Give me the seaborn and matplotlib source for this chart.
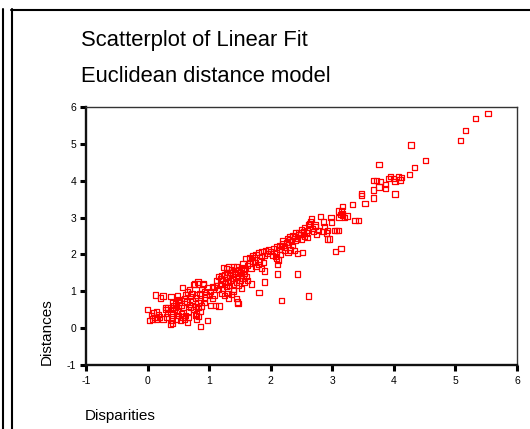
import matplotlib
matplotlib.use("Agg")
import matplotlib.pyplot as plt
from matplotlib.lines import Line2D
import seaborn as sns
import pandas as pd

sns.set_theme(style="ticks")
plt.rcParams['font.family'] = ['Liberation Sans', 'DejaVu Sans']
plt.rcParams['axes.unicode_minus'] = False
plt.rcParams.update({
    'xtick.bottom': True, 'ytick.left': True,
    'xtick.major.size': 4, 'ytick.major.size': 4,
    'xtick.major.width': 2.2, 'ytick.major.width': 2.2,
    'xtick.color': 'black', 'ytick.color': 'black',
    'xtick.direction': 'out', 'ytick.direction': 'out',
})

title_line1 = "Scatterplot of Linear Fit"
title_line2 = "Euclidean distance model"
x_label = "Disparities"
y_label = "Distances"
x_ticks = [-1, 0, 1, 2, 3, 4, 5, 6]
y_ticks = [-1, 0, 1, 2, 3, 4, 5, 6]

pts = [
    # upper outliers
    (5.53, 5.82), (5.33, 5.69), (5.17, 5.36), (5.08, 5.09), (4.28, 4.97), (4.51, 4.55),
    (4.33, 4.35), (4.25, 4.16), (3.76, 4.43),
    (4.12, 4.09), (4.07, 4.10), (4.00, 4.05), (3.95, 4.12), (4.10, 4.02), (4.02, 3.98), (3.92, 4.05),
    (3.67, 4.00), (3.72, 4.00), (3.78, 3.98), (3.86, 3.89), (3.76, 3.83), (3.87, 3.78), (3.67, 3.75),
    (4.02, 3.64), (3.67, 3.53), (3.48, 3.66), (3.48, 3.59), (3.53, 3.38), (3.33, 3.35), (3.17, 3.30),
    (3.10, 3.18), (3.15, 3.18), (3.16, 3.10), (3.17, 3.05), (3.13, 3.08), (3.20, 3.00), (3.11, 3.00),
    (3.24, 3.04), (3.37, 2.93), (3.43, 2.93), (2.98, 3.00), (2.99, 2.88), (2.81, 3.02), (2.66, 2.96),
    (2.63, 2.85), (2.72, 2.80), (2.87, 2.75), (2.86, 2.88), (2.85, 2.63), (2.90, 2.58), (2.92, 2.65),
    (3.07, 2.66), (3.10, 2.66), (3.03, 2.66), (2.92, 2.42), (2.95, 2.42), (3.05, 2.07), (3.14, 2.16),
    (2.11, 1.47), (2.43, 1.47), (1.81, 0.96), (2.17, 0.74), (2.61, 0.87), (1.90, 1.25), (1.69, 1.20),
    # main band 1.6 - 2.8
    (2.64, 2.89), (2.62, 2.82), (2.73, 2.76), (2.78, 2.65), (2.75, 2.55), (2.70, 2.62), (2.68, 2.70),
    (2.53, 2.62), (2.48, 2.53), (2.43, 2.44), (2.34, 2.35), (2.29, 2.28), (2.23, 2.20), (2.14, 2.13),
    (2.58, 2.58), (2.55, 2.50), (2.60, 2.45), (2.50, 2.40), (2.45, 2.55), (2.40, 2.38), (2.38, 2.48),
    (2.35, 2.25), (2.30, 2.40), (2.25, 2.33), (2.20, 2.30), (2.18, 2.22), (2.10, 2.20), (2.05, 2.15),
    (2.00, 2.08), (2.44, 2.02), (2.51, 2.06), (2.38, 2.10), (2.32, 2.12), (2.28, 2.05),
    (2.10, 2.05), (2.08, 1.95), (2.12, 1.85), (2.11, 1.72), (2.10, 1.90), (2.15, 2.00), (2.22, 2.10),
    (2.03, 1.98), (1.95, 2.02), (1.90, 1.98), (1.85, 1.95), (1.80, 2.05), (1.76, 2.00), (1.73, 1.92),
    (1.70, 1.98), (1.65, 1.92), (1.60, 1.90), (1.86, 2.08), (1.92, 2.10), (1.97, 2.12),
    (1.80, 1.72), (1.85, 1.62), (1.76, 1.68), (1.70, 1.80), (1.75, 1.78), (1.82, 1.82), (1.88, 1.78),
    (1.65, 1.75), (1.62, 1.70), (1.68, 1.62), (1.90, 1.55), (1.58, 1.60), (1.55, 1.75), (1.52, 1.65),
    (2.50, 2.68), (2.55, 2.72), (2.60, 2.66), (2.45, 2.60), (2.40, 2.58), (2.35, 2.52), (2.30, 2.48),
    (2.27, 2.43), (2.20, 2.38), (2.15, 2.25),
    # 1.1 - 1.6
    (1.23, 1.65), (1.28, 1.62), (1.32, 1.66), (1.36, 1.60), (1.40, 1.68), (1.45, 1.66), (1.48, 1.60),
    (1.42, 1.55), (1.35, 1.52), (1.30, 1.50), (1.25, 1.45), (1.20, 1.42), (1.15, 1.40), (1.12, 1.30),
    (1.18, 1.35), (1.22, 1.30), (1.28, 1.38), (1.33, 1.42), (1.38, 1.45), (1.43, 1.48), (1.50, 1.52),
    (1.55, 1.55), (1.58, 1.48), (1.52, 1.42), (1.46, 1.38), (1.40, 1.35), (1.35, 1.30), (1.30, 1.25),
    (1.25, 1.20), (1.18, 1.18), (1.12, 1.15), (1.08, 1.10), (1.15, 1.05), (1.22, 1.08), (1.28, 1.12),
    (1.33, 1.15), (1.40, 1.20), (1.45, 1.25), (1.50, 1.30), (1.55, 1.35), (1.60, 1.40), (1.62, 1.30),
    (1.58, 1.25), (1.48, 1.15), (1.40, 1.05), (1.36, 0.92), (1.40, 1.01), (1.44, 0.80), (1.46, 0.71),
    (1.47, 0.67), (1.30, 0.95), (1.25, 0.88), (1.20, 0.95), (1.10, 0.62), (1.16, 0.60), (1.02, 0.62),
    (1.32, 0.82), (1.52, 1.08),
    # 0.5 - 1.1
    (0.57, 1.10), (0.75, 1.18), (0.83, 1.20), (0.91, 1.18), (0.76, 1.20), (0.82, 1.25), (0.90, 1.21),
    (0.68, 1.05), (0.72, 0.95), (0.70, 0.85), (0.65, 0.98), (0.62, 0.90), (0.60, 0.80), (0.64, 0.72),
    (0.68, 0.65), (0.72, 0.75), (0.78, 0.82), (0.80, 0.90), (0.85, 0.95), (0.88, 1.05), (0.92, 1.00),
    (0.95, 0.92), (0.98, 1.10), (1.02, 1.00), (1.05, 1.12), (1.00, 0.88), (0.93, 0.82), (0.86, 0.75),
    (0.82, 0.68), (0.78, 0.58), (0.75, 0.50), (0.70, 0.55), (0.66, 0.45), (0.62, 0.35), (0.60, 0.25),
    (0.65, 0.15), (0.67, 0.28), (0.80, 0.40), (0.83, 0.32), (0.85, 0.45), (0.82, 0.55), (0.79, 0.24),
    (0.78, 0.35), (0.86, 0.05), (0.97, 0.20), (0.88, 0.60), (0.93, 0.70), (1.05, 0.80), (1.08, 0.90),
    (0.55, 0.62), (0.52, 0.70), (0.58, 0.55), (0.50, 0.78),
    (0.48, 0.87), (0.52, 0.76), (0.46, 0.67), (0.45, 0.55), (0.48, 0.45), (0.50, 0.35), (0.47, 0.25),
    (0.55, 0.40), (0.57, 0.30), (0.53, 0.20),
    (0.38, 0.85), (0.40, 0.70), (0.41, 0.55), (0.38, 0.40), (0.40, 0.30), (0.39, 0.20), (0.37, 0.11),
    (0.40, 0.12), (0.43, 0.50), (0.42, 0.62),
    (0.29, 0.57), (0.30, 0.50), (0.32, 0.40), (0.31, 0.30), (0.32, 0.55),
    (0.00, 0.51), (0.03, 0.20), (0.13, 0.90), (0.21, 0.82), (0.25, 0.87), (0.07, 0.35), (0.10, 0.42),
    (0.14, 0.44), (0.12, 0.28), (0.08, 0.25), (0.14, 0.25), (0.20, 0.30), (0.25, 0.25), (0.18, 0.38),
]
disparities = [p[0] for p in pts]
distances = [p[1] for p in pts]

df = pd.DataFrame({"Disparities": disparities, "Distances": distances})

W, H = 530, 429
fig = plt.figure(figsize=(W / 100, H / 100), dpi=100)
ax = fig.add_axes([86 / W, 1 - 365 / H, (517 - 86) / W, (365 - 107) / H])

sns.scatterplot(data=df, x="Disparities", y="Distances", ax=ax, marker="s", s=14,
                color="none", edgecolor="#ff0000", linewidth=0.9, legend=False)
for coll in ax.collections:
    coll.set_facecolor("none")
    coll.set_edgecolor("#ff0000")

ax.set_xlim(-1, 6)
ax.set_ylim(-1, 6)
ax.set_xticks(x_ticks)
ax.set_yticks(y_ticks)
ax.set_xticklabels([str(t) for t in x_ticks])
ax.set_yticklabels([str(t) for t in y_ticks])
ax.set_xlabel("")
ax.set_ylabel("")
ax.tick_params(axis="both", which="major", direction="out", length=4, width=2.2,
               labelsize=7.5, color="black", labelcolor="black", pad=3.0,
               bottom=True, left=True, top=False, right=False)
ax.tick_params(axis="x", pad=4.0)
for t in ax.xaxis.get_major_ticks() + ax.yaxis.get_major_ticks():
    t.tick1line.set_visible(True)
    t.tick1line.set_markeredgecolor("black")
    t.tick1line.set_zorder(5)

for side in ["left", "bottom"]:
    ax.spines[side].set_linewidth(1.7)
    ax.spines[side].set_color("#111111")
for side in ["top", "right"]:
    ax.spines[side].set_linewidth(1.0)
    ax.spines[side].set_color("#333333")
    ax.spines[side].set_visible(True)

# titles and labels
fig.text(81 / W, 1 - 46 / H, title_line1, fontsize=15.8, ha="left", va="baseline", color="black")
fig.text(81 / W, 1 - 82 / H, title_line2, fontsize=15.8, ha="left", va="baseline", color="black")
fig.text(85 / W, 1 - 420 / H, x_label, fontsize=11, ha="left", va="baseline", color="black")
fig.text(47 / W, 1 - 365 / H, y_label, fontsize=11, rotation=90, ha="center", va="bottom",
         color="black")

# outer frame lines
def px_line(x0, y0, x1, y1):
    fig.add_artist(Line2D([x0 / W, x1 / W], [1 - y0 / H, 1 - y1 / H], color="black",
                          linewidth=1.5, transform=fig.transFigure))

px_line(3, 9, 3, 429)
px_line(12, 9, 12, 429)
px_line(11, 10, 530, 10)

fig.savefig("out.png", dpi=100)
